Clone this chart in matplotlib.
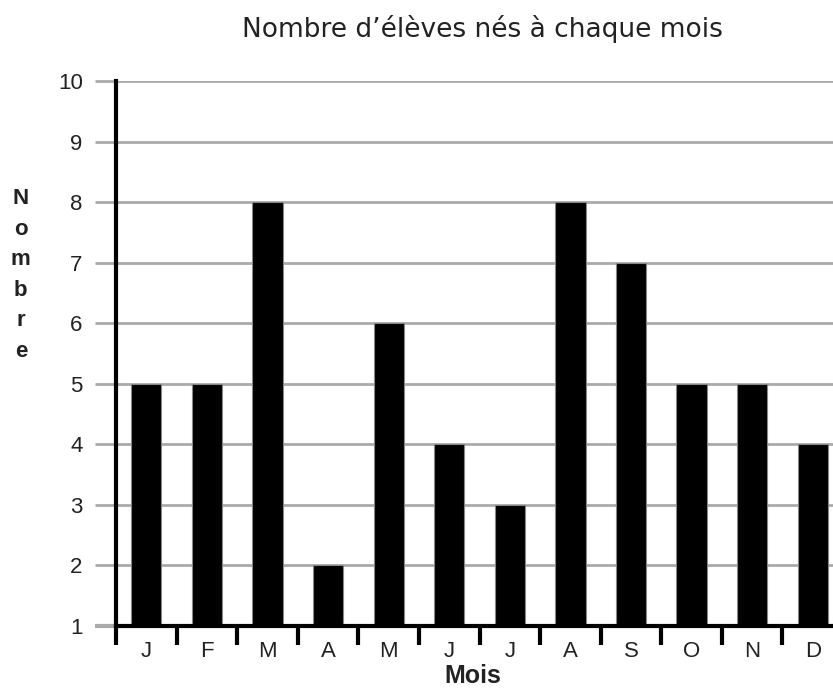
import matplotlib.pyplot as plt
import numpy as np

months = ["J", "F", "M", "A", "M", "J", "J", "A", "S", "O", "N", "D"]
counts = [5, 5, 8, 2, 6, 4, 3, 8, 7, 5, 5, 4]
y_ticks = list(range(1, 11))

plt.rcParams['font.family'] = ['Liberation Sans', 'DejaVu Sans']

fig = plt.figure(figsize=(8.33, 6.91), dpi=100)
ax = fig.add_axes([0.1393, 0.0941, 0.8727, 0.7887])

x = np.arange(len(months))
base = y_ticks[0]
# bars start from the bottom of the scale (1), not from 0
ax.bar(x, [c - base for c in counts], bottom=base, width=0.5,
       color='black', edgecolor='#888888', linewidth=0.8, zorder=3)

ax.set_xlim(-0.5, len(months) - 0.5)
ax.set_ylim(y_ticks[0], y_ticks[-1])

ax.set_yticks(y_ticks)
ax.yaxis.grid(True, color='#aaaaaa', linewidth=2, zorder=0)
ax.tick_params(axis='y', length=15, width=2, color='#aaaaaa',
               labelsize=16, pad=9, labelcolor='#222222')
ax.yaxis.get_major_ticks()[0].tick1line.set_color('black')
ax.yaxis.get_major_ticks()[0].tick1line.set_markeredgewidth(3)

ax.set_xticks(x)
ax.set_xticklabels(months)
ax.set_xticks(np.arange(-0.5, len(months), 1), minor=True)
ax.tick_params(axis='x', which='major', length=0, labelsize=16, pad=11,
               labelcolor='#222222')
ax.tick_params(axis='x', which='minor', length=14, width=3, color='black')

for side in ['top', 'right']:
    ax.spines[side].set_visible(False)
for side in ['left', 'bottom']:
    ax.spines[side].set_linewidth(3)
    ax.spines[side].set_zorder(4)

fig.text(0.579, 0.958, "Nombre d\u2019élèves nés à chaque mois",
         ha='center', va='center', fontsize=19, color='#222222',
         family=['DejaVu Sans'])
fig.text(0.568, 0.022, "Mois", ha='center', va='center', fontsize=18,
         fontweight='bold', color='#222222')
fig.text(0.025, 0.602, "\n".join("Nombre"), ha='center', va='center',
         fontsize=16, fontweight='bold', color='#222222', linespacing=1.6)

fig.savefig('out.png', dpi=100)
